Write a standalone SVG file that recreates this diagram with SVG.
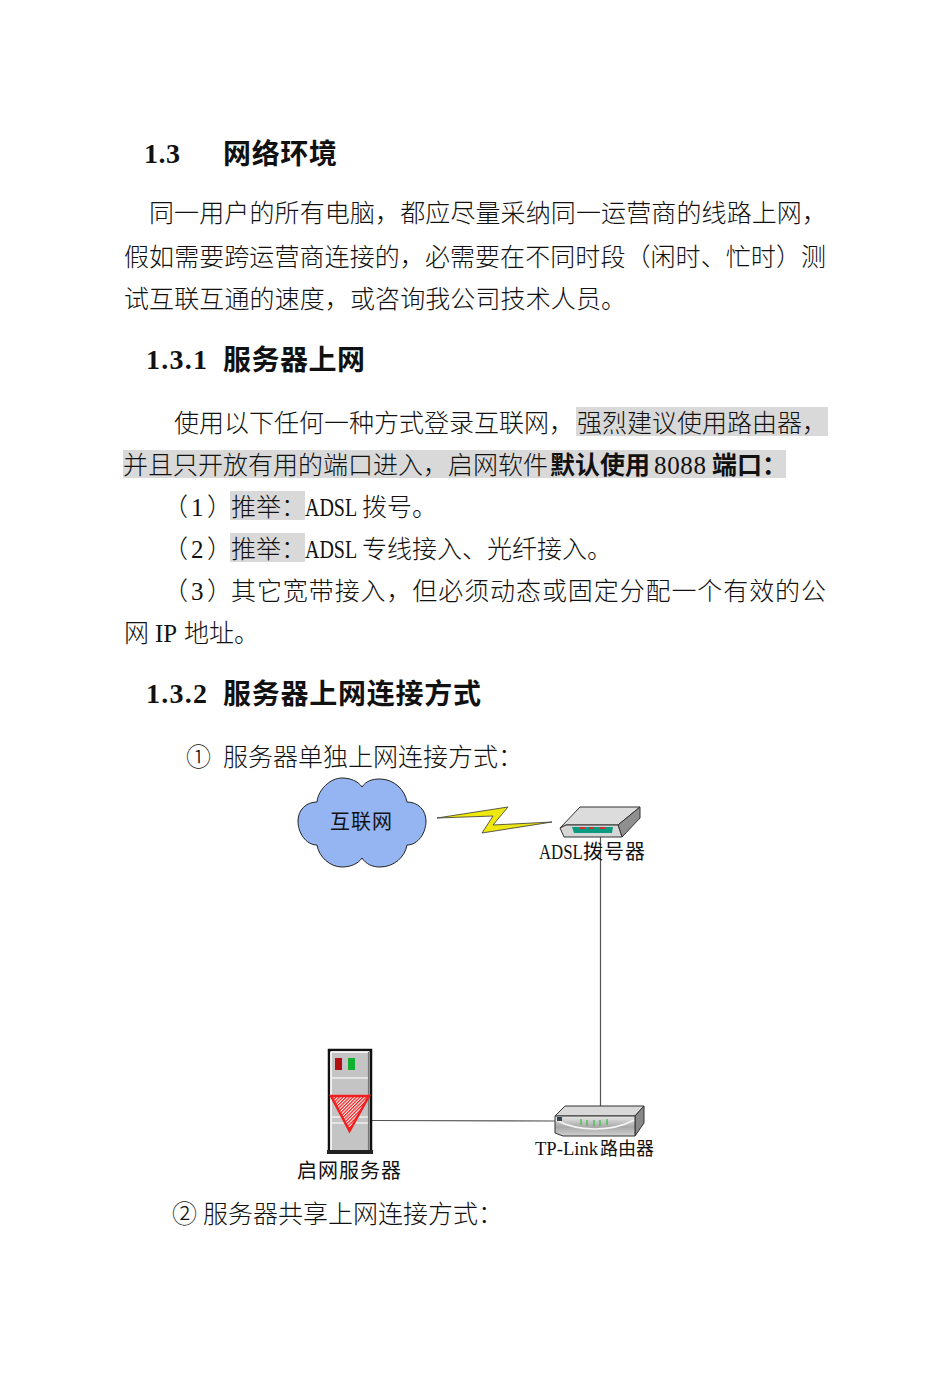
<svg xmlns="http://www.w3.org/2000/svg" width="950" height="1378" viewBox="0 0 950 1378">
<defs>
<style>
text{font-family:"Liberation Serif","Noto Sans CJK SC",serif;fill:#111}
.b{font-size:25px;font-weight:300}
.h{font-size:28px;font-weight:700}
.bold{font-weight:700}
.l{font-size:20px}
.s{font-size:18px}
.hl{fill:#d9d9d9}
.c{fill:none;stroke:#555;stroke-width:1.2}
</style>
<pattern id="hatch" width="2.400" height="2.400" patternUnits="userSpaceOnUse" patternTransform="rotate(45)">
<rect width="2.400" height="2.400" fill="#fff"/><rect width="1.300" height="2.400" fill="#f02020"/>
</pattern>
<linearGradient id="rf" x1="0" y1="0" x2="0" y2="1"><stop offset="0" stop-color="#e8e8e8"/><stop offset=".55" stop-color="#a8a8a8"/><stop offset="1" stop-color="#d0d0d0"/></linearGradient>
<linearGradient id="bolt" x1="0" y1="0" x2="1" y2="0"><stop offset="0" stop-color="#f4f000"/><stop offset="1" stop-color="#e8e020"/></linearGradient>
</defs>
<rect width="950" height="1378" fill="#fff"/>
<g id="highlights">
<rect class="hl" x="576" y="407" width="252" height="29"/>
<rect class="hl" x="123" y="450" width="663" height="28"/>
<rect class="hl" x="230" y="491" width="75" height="29"/>
<rect class="hl" x="230" y="533" width="75" height="29"/>
</g>
<g id="text">
<text class="h" x="144" y="163" textLength="36">1.3</text>
<text class="h" x="223" y="164" textLength="114">网络环境</text>
<text class="b" x="149" y="222" textLength="678">同一用户的所有电脑，都应尽量采纳同一运营商的线路上网，</text>
<text class="b" x="124" y="266" textLength="702">假如需要跨运营商连接的，必需要在不同时段（闲时、忙时）测</text>
<text class="b" x="124" y="308" textLength="502">试互联互通的速度，或咨询我公司技术人员。</text>
<text class="h" x="146" y="369" textLength="61">1.3.1</text>
<text class="h" x="223" y="370" textLength="142">服务器上网</text>
<text class="b" x="174" y="432" textLength="400">使用以下任何一种方式登录互联网，</text>
<text class="b" x="577" y="432" textLength="250">强烈建议使用路由器，</text>
<text class="b" x="123" y="474" textLength="425">并且只开放有用的端口进入，启网软件</text>
<text class="b bold" x="550" y="474" textLength="100">默认使用</text>
<text class="b" x="654" y="474" textLength="52">8088</text>
<text class="b bold" x="712" y="474" textLength="75">端口：</text>
<text class="b" x="163" y="516">（</text><text class="b" x="191" y="516">1</text><text class="b" x="207" y="516">）</text>
<text class="b" x="231" y="516" textLength="75">推举：</text>
<text class="b" transform="translate(305,516) scale(.8,1)">ADSL</text>
<text class="b" x="362" y="516" textLength="75">拨号。</text>
<text class="b" x="163" y="558">（</text><text class="b" x="191" y="558">2</text><text class="b" x="207" y="558">）</text>
<text class="b" x="231" y="558" textLength="75">推举：</text>
<text class="b" transform="translate(305,558) scale(.8,1)">ADSL</text>
<text class="b" x="362" y="558" textLength="250">专线接入、光纤接入。</text>
<text class="b" x="163" y="600">（</text><text class="b" x="191" y="600">3</text><text class="b" x="207" y="600">）</text>
<text class="b" x="231" y="600" textLength="595">其它宽带接入，但必须动态或固定分配一个有效的公</text>
<text class="b" x="124" y="642">网</text>
<text class="b" x="155" y="642" textLength="22" lengthAdjust="spacingAndGlyphs">IP</text>
<text class="b" x="184" y="642" textLength="75">地址。</text>
<text class="h" x="146" y="703" textLength="61">1.3.2</text>
<text class="h" x="223" y="704" textLength="258">服务器上网连接方式</text>
<text class="b" x="186" y="766">①</text>
<text class="b" x="223" y="766" textLength="300">服务器单独上网连接方式：</text>
<text class="b" x="172" y="1223">②</text>
<text class="b" x="203" y="1223" textLength="300">服务器共享上网连接方式：</text>
</g>
<g id="connectors">
<path class="c" d="M600.500 836V1106"/>
<path class="c" d="M372 1120.500L556 1121"/>
</g>
<g id="cloud-internet">
<path d="M317 802C318 790 330 778 342 778C350 778 358 781 362 787C366 781 372 779 380 779C394 779 405 790 407 802C418 802 426 810 426 821C426 833 418 845 407 845C405 857 394 867 380 867C372 867 366 864 362 858C358 864 350 867 342 867C330 867 319 857 317 845C306 845 298 833 298 821C298 810 306 802 317 802Z" fill="#94b5f2" stroke="#222" stroke-width="1"/>
<text class="l" x="330" y="829" textLength="62">互联网</text>
</g>
<g id="lightning">
<path d="M437 818L508 807L493 825L552 822L482 833L493 816Z" fill="url(#bolt)" stroke="#333" stroke-width=".8"/>
</g>
<g id="adsl-modem">
<path d="M560 828L580 807H640L618 825H566Z" fill="#dcdcdc" stroke="#333"/>
<path d="M618 825L640 807V818L622 837Z" fill="#8f8f8f" stroke="#333"/>
<path d="M560 828L566 825H618L622 837H564Z" fill="#d6d6d6" stroke="#333"/>
<path d="M572 827H613L612 833H574Z" fill="#0c9a80"/>
<path d="M580 828h5M589 828h5M600 828h5" stroke="#d03030" stroke-width="1.800"/>
<text class="l" transform="translate(539,859) scale(.84,1)">ADSL</text>
<text class="l" x="583" y="859" textLength="62">拨号器</text>
</g>
<g id="router">
<path d="M555 1116L565 1106H644L635 1116Z" fill="#d8d8d8" stroke="#333"/>
<path d="M635 1116L644 1106V1123L635 1136Z" fill="#888" stroke="#333"/>
<path d="M555 1116H635V1136H563L555 1133Z" fill="url(#rf)" stroke="#333"/>
<path d="M556 1120C578 1132 612 1132 634 1120" fill="none" stroke="#f4f4f4" stroke-width="1.500"/>
<path d="M581 1119v6M587 1120v6M594 1120v6M600 1120v6M607 1119v6" stroke="#30c040" stroke-width="1.200"/>
<rect x="557" y="1117" width="5" height="4" fill="#345"/>
<text class="s" x="535" y="1155" textLength="63" lengthAdjust="spacingAndGlyphs">TP-Link</text>
<text class="s" x="600" y="1155" textLength="54">路由器</text>
</g>
<g id="server">
<rect x="329" y="1050" width="42" height="102" fill="#c4c4c4" stroke="#111" stroke-width="2.500"/>
<path d="M331 1052H369M331 1052V1150" stroke="#fff" stroke-width="1.500" fill="none"/>
<path d="M368.500 1052V1150" stroke="#777" stroke-width="1.200"/>
<rect x="335" y="1058" width="7" height="12" fill="#b01010"/>
<rect x="348" y="1058" width="7" height="12" fill="#10b030"/>
<path d="M332 1078H368M332 1117H368M332 1123H368" stroke="#eee" stroke-width="1.500"/>
<path d="M331 1096H369L349.500 1131Z" fill="url(#hatch)" stroke="#f02020" stroke-width="2.500"/>
<rect x="327" y="1150" width="46" height="4" fill="#222"/>
<text class="l" x="297" y="1178" textLength="104">启网服务器</text>
</g>
</svg>
